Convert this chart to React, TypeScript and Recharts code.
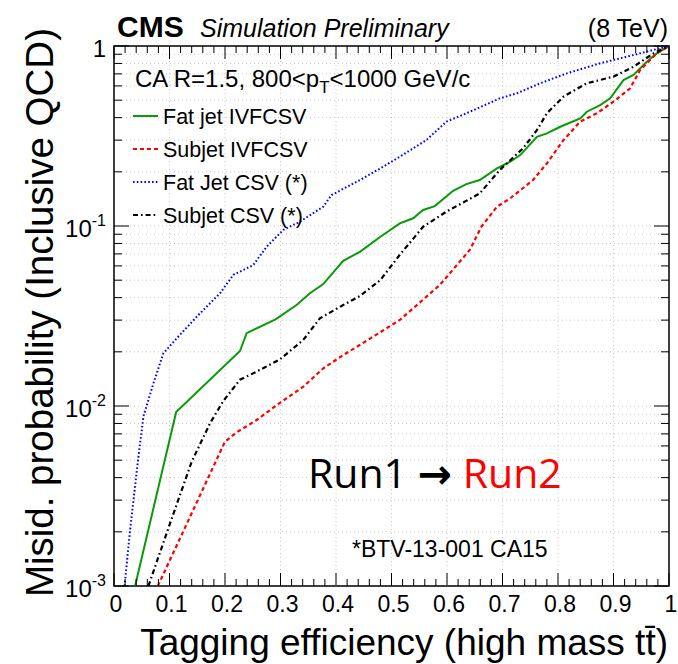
import { LineChart, Line, XAxis, YAxis, CartesianGrid, ReferenceLine, ReferenceArea, Legend } from 'recharts'

const W = 678
const H = 664
// plot frame in page pixels (chart is pinned to the page corner)
const LEFT = 114
const RIGHT = 669
const TOP = 46
const BOTTOM = 586
const FONT = '"Liberation Sans", Arial, Helvetica, sans-serif'

// axis ticks
const X_MAJOR = [0, 0.1, 0.2, 0.3, 0.4, 0.5, 0.6, 0.7, 0.8, 0.9, 1]
const X_LABELS = ['0', '0.1', '0.2', '0.3', '0.4', '0.5', '0.6', '0.7', '0.8', '0.9', '1']
const Y_DECADES = [0.001, 0.01, 0.1, 1]
const Y_EXPONENTS = ['-3', '-2', '-1', '']

// Fat jet IVFCSV
const FAT_IVF_X = [0.038, 0.112, 0.227, 0.239, 0.291, 0.329, 0.353, 0.377, 0.413, 0.443, 0.48, 0.515, 0.539, 0.557, 0.578, 0.611, 0.635, 0.659, 0.69, 0.714, 0.732, 0.762, 0.78, 0.804, 0.84, 0.852, 0.876, 0.894, 0.918, 0.936, 0.96, 0.978, 1.0]
const FAT_IVF_Y = [0.001, 0.00927, 0.0202, 0.0254, 0.0303, 0.0364, 0.0423, 0.0476, 0.064, 0.0719, 0.0871, 0.1035, 0.1104, 0.1227, 0.129, 0.157, 0.171, 0.18, 0.209, 0.2275, 0.2477, 0.313, 0.327, 0.356, 0.396, 0.4315, 0.47, 0.512, 0.647, 0.69, 0.818, 0.91, 1]

// Subjet IVFCSV
const SUB_IVF_X = [0.079, 0.2, 0.221, 0.257, 0.299, 0.341, 0.377, 0.413, 0.443, 0.515, 0.587, 0.641, 0.662, 0.69, 0.714, 0.755, 0.78, 0.81, 0.84, 0.87, 0.9, 0.93, 0.948, 0.978, 1.0]
const SUB_IVF_Y = [0.001, 0.00634, 0.00714, 0.00836, 0.01042, 0.0128, 0.01618, 0.01919, 0.02183, 0.03006, 0.047, 0.0736, 0.0991, 0.128, 0.1426, 0.18, 0.2228, 0.3006, 0.38, 0.4227, 0.491, 0.582, 0.736, 0.91, 1]

// Fat Jet CSV (*)
const FAT_CSV_X = [0.019, 0.029, 0.044, 0.053, 0.071, 0.089, 0.113, 0.149, 0.191, 0.215, 0.251, 0.275, 0.305, 0.335, 0.377, 0.392, 0.443, 0.48, 0.515, 0.563, 0.599, 0.635, 0.695, 0.726, 0.768, 0.816, 0.876, 0.936, 0.972, 1.0]
const FAT_CSV_Y = [0.001, 0.002046, 0.005224, 0.00873, 0.01337, 0.01963, 0.02377, 0.03133, 0.0423, 0.0535, 0.0607, 0.0767, 0.0951, 0.1057, 0.128, 0.1486, 0.18, 0.209, 0.2427, 0.3006, 0.38, 0.4227, 0.5117, 0.5458, 0.621, 0.7047, 0.8017, 0.891, 0.951, 1]

// Subjet CSV (*)
const SUB_CSV_X = [0.062, 0.101, 0.14, 0.173, 0.197, 0.227, 0.257, 0.299, 0.341, 0.371, 0.413, 0.443, 0.48, 0.515, 0.557, 0.599, 0.659, 0.695, 0.737, 0.762, 0.78, 0.81, 0.852, 0.9, 0.936, 0.972, 1.0]
const SUB_CSV_Y = [0.001, 0.002228, 0.004909, 0.008017, 0.01067, 0.014, 0.01552, 0.01816, 0.02328, 0.0307, 0.0364, 0.0408, 0.0501, 0.0692, 0.0991, 0.1202, 0.1517, 0.2046, 0.27, 0.341, 0.4227, 0.5236, 0.621, 0.676, 0.767, 0.91, 1]

const toPoints = (xs: number[], ys: number[]) => xs.map((x, i) => ({ x, y: ys[i] }))

const SERIES = [
  { name: 'Fat jet IVFCSV', data: toPoints(FAT_IVF_X, FAT_IVF_Y), color: '#0a990a', dash: undefined, width: 2 },
  { name: 'Subjet IVFCSV', data: toPoints(SUB_IVF_X, SUB_IVF_Y), color: '#ff0000', dash: '4 3', width: 2.2 },
  { name: 'Fat Jet CSV (*)', data: toPoints(FAT_CSV_X, FAT_CSV_Y), color: '#0000ff', dash: '1.6 2.2', width: 2 },
  { name: 'Subjet CSV (*)', data: toPoints(SUB_CSV_X, SUB_CSV_Y), color: '#000000', dash: '5 3 1.6 3', width: 2.2 },
]

const X_TICKS = X_MAJOR.flatMap((m, i) => (i < X_MAJOR.length - 1 ? [m, m + 0.02, m + 0.04, m + 0.06, m + 0.08] : [m]))
const Y_TICKS = [...Y_DECADES.slice(0, 3).flatMap((d) => [1, 2, 3, 4, 5, 6, 7, 8, 9].map((k) => d * k)), 1]

function XTick(props: any) {
  const { x, payload } = props
  const i = X_MAJOR.findIndex((m) => Math.abs(m - payload.value) < 1e-6)
  const len = i >= 0 ? 13 : 7
  return (
    <g>
      <line x1={x} x2={x} y1={BOTTOM} y2={BOTTOM - len} stroke="#000" strokeWidth={1} />
      <line x1={x} x2={x} y1={TOP} y2={TOP + len} stroke="#000" strokeWidth={1} />
      {i >= 0 && (
        <text x={x + 2} y={612} textAnchor="middle" fontSize={23} fontFamily={FONT} fill="#000">
          {X_LABELS[i]}
        </text>
      )}
    </g>
  )
}

function YTick(props: any) {
  const { y, payload } = props
  const i = Y_DECADES.findIndex((d) => Math.abs(d - payload.value) < payload.value * 1e-6)
  const len = i >= 0 ? 15 : 8
  return (
    <g>
      <line x1={LEFT} x2={LEFT + len} y1={y} y2={y} stroke="#000" strokeWidth={1} />
      <line x1={RIGHT - len} x2={RIGHT} y1={y} y2={y} stroke="#000" strokeWidth={1} />
      {i >= 0 && (
        <text x={106} y={y + 11} textAnchor="end" fontSize={24} fontFamily={FONT} fill="#000">
          {Y_EXPONENTS[i] === '' ? '1' : '10'}
          {Y_EXPONENTS[i] !== '' && (
            <tspan fontSize={16} dy={-11}>
              {Y_EXPONENTS[i]}
            </tspan>
          )}
        </text>
      )}
    </g>
  )
}

function LegendBox() {
  return (
    <svg width={230} height={SERIES.length * 33} style={{ display: 'block' }}>
      {SERIES.map((s, i) => {
        const cy = 16 + i * 33
        return (
          <g key={s.name}>
            <line x1={3} x2={28} y1={cy} y2={cy} stroke={s.color} strokeWidth={s.width} strokeDasharray={s.dash} />
            <text x={33} y={cy + 8} fontSize={21.5} fontFamily={FONT} fill="#000">
              {s.name}
            </text>
          </g>
        )
      })}
    </svg>
  )
}

export default function App() {
  return (
    <div style={{ position: 'absolute', left: 0, top: 0, width: W, height: H, background: '#fff' }}>
      <LineChart width={W} height={H} margin={{ top: TOP, right: W - RIGHT, bottom: 0, left: 0 }}>
        <CartesianGrid vertical={false} stroke="#c8c8c8" strokeDasharray="1 3" />
        {X_MAJOR.slice(1, -1).map((v) => (
          <ReferenceLine key={v} x={v} stroke="#c8c8c8" strokeDasharray="1 3" />
        ))}
        <XAxis
          dataKey="x"
          type="number"
          domain={[0, 1]}
          ticks={X_TICKS}
          interval={0}
          height={H - BOTTOM}
          axisLine={false}
          tickLine={false}
          tick={<XTick />}
          allowDataOverflow
        />
        <YAxis
          type="number"
          scale="log"
          domain={[0.001, 1]}
          ticks={Y_TICKS}
          interval={0}
          width={LEFT}
          axisLine={false}
          tickLine={false}
          tick={<YTick />}
          allowDataOverflow
        />
        {SERIES.map((s) => (
          <Line
            key={s.name}
            data={s.data}
            dataKey="y"
            name={s.name}
            type="linear"
            stroke={s.color}
            strokeWidth={s.width}
            strokeDasharray={s.dash}
            dot={false}
            isAnimationActive={false}
          />
        ))}
        <ReferenceArea x1={0} x2={1} y1={0.001} y2={1} fill="none" stroke="#000" strokeWidth={1.5} />
        <Legend
          layout="vertical"
          align="center"
          verticalAlign="middle"
          content={() => <LegendBox />}
          wrapperStyle={{ position: 'absolute', left: 130, top: 100, width: 230 }}
        />
      </LineChart>
      <svg width={W} height={H} style={{ position: 'absolute', left: 0, top: 0, pointerEvents: 'none' }}>
        <text x={117} y={37} fontSize={30} fontWeight="bold" fontFamily={FONT}>CMS</text>
        <text x={200} y={37} fontSize={25} fontStyle="italic" fontFamily={FONT}>Simulation Preliminary</text>
        <text x={668} y={37} fontSize={25} textAnchor="end" fontFamily={FONT}>(8 TeV)</text>
        <text x={135} y={87} fontSize={24} fontFamily={FONT}>
          CA R=1.5, 800&lt;p<tspan fontSize={17} dy={6}>T</tspan>
          <tspan dy={-6}>&lt;1000 GeV/c</tspan>
        </text>
        <text x={308} y={488} fontSize={41} fontFamily={'"Open Sans", "Noto Sans", sans-serif'}>
          <tspan fill="#000">Run1 </tspan>
          <tspan fill="#000" fontFamily={'"DejaVu Sans", sans-serif'} fontWeight="bold">→</tspan>
          <tspan fill="#ff0000"> Run2</tspan>
        </text>
        <text x={352} y={557} fontSize={23} fontFamily={FONT}>*BTV-13-001 CA15</text>
        <text x={668} y={655} fontSize={37} textAnchor="end" fontFamily={FONT}>
          Tagging efficiency (high mass tt&#772;)
        </text>
        <text transform="translate(53,28) rotate(-90)" fontSize={38.5} textAnchor="end" fontFamily={FONT}>
          Misid. probability (Inclusive QCD)
        </text>
      </svg>
    </div>
  )
}
